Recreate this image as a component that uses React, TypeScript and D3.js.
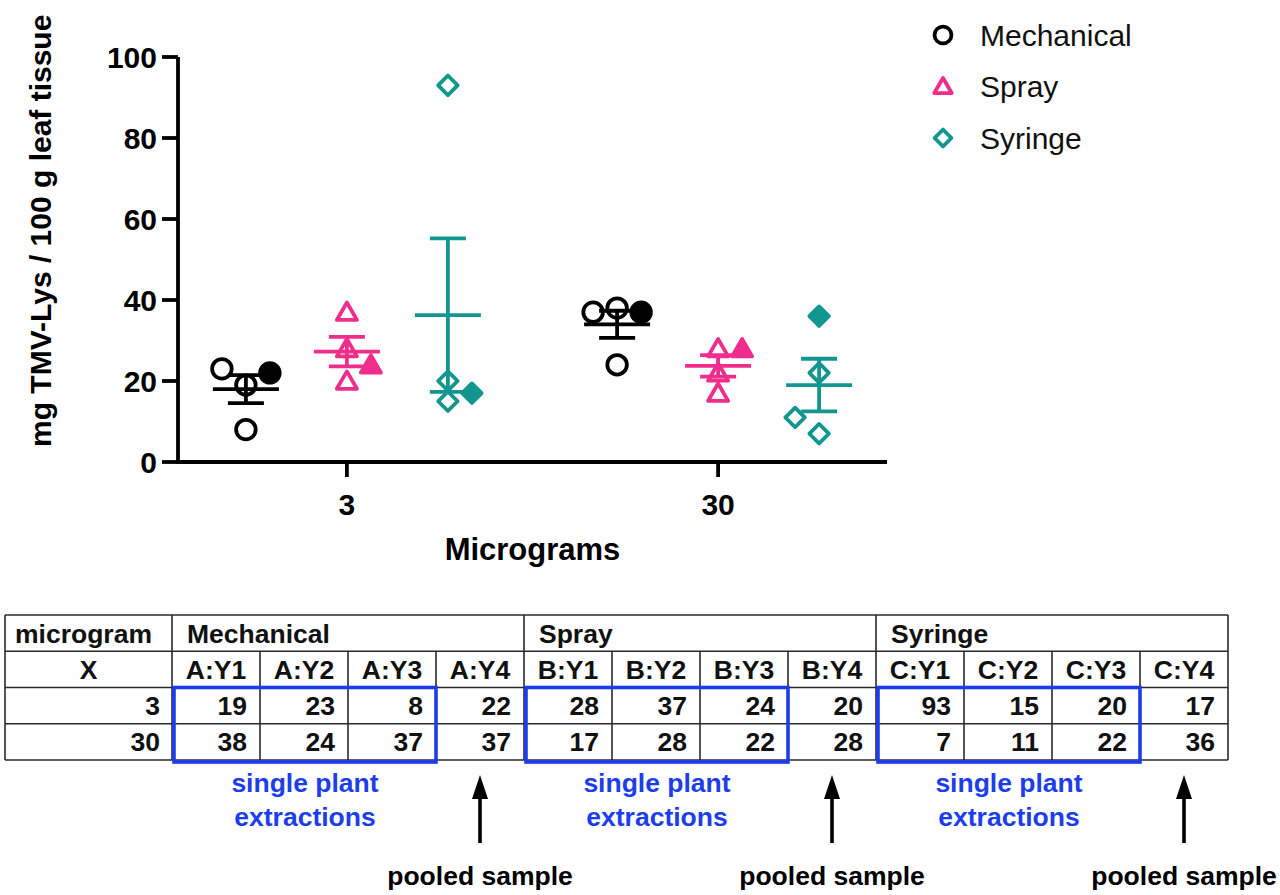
import React from "react";
import * as d3 from "d3";

// doses on the x axis and the three inoculation methods
const doses = ["3", "30"];
const methods = ["Mechanical", "Spray", "Syringe"];
const methodColors = ["#000000", "#ef2d8b", "#12968f"];

// plotted values per dose (single plant extractions and pooled sample)
const mechanicalSingle = [[19, 23, 8], [38, 24, 37]];
const mechanicalPooled = [22, 37];
const spraySingle = [[28, 37, 20], [17, 28, 22]];
const sprayPooled = [24, 28];
const syringeSingle = [[93, 15, 20], [7, 11, 22]];
const syringePooled = [17, 36];

// table values, rows = doses, columns = Y1..Y4
const tableDoses = ["3", "30"];
const tablePrefixes = ["A", "B", "C"];
const subColumns = ["Y1", "Y2", "Y3", "Y4"];
const mechanicalTable = [[19, 23, 8, 22], [38, 24, 37, 37]];
const sprayTable = [[28, 37, 24, 20], [17, 28, 22, 28]];
const syringeTable = [[93, 15, 20, 17], [7, 11, 22, 36]];

const yTicks = [0, 20, 40, 60, 80, 100];

const FONT = "'Liberation Sans', Arial, Helvetica, sans-serif";
const BLUE = "#1c3ded";

const singles = [mechanicalSingle, spraySingle, syringeSingle];
const pooled = [mechanicalPooled, sprayPooled, syringePooled];
const tables = [mechanicalTable, sprayTable, syringeTable];

const symbolTypes = [d3.symbolCircle, d3.symbolTriangle, d3.symbolSquare];
const symbolSizes = [300, 175, 190];
const symbolRotate = [0, 0, 45];

const App: React.FC = () => {
  const margin = { left: 178, right: 887, top: 57, bottom: 462 };
  const y = d3.scaleLinear().domain([0, 100]).range([margin.bottom, margin.top]);
  const x = d3
    .scalePoint<string>()
    .domain(doses)
    .range([margin.left, margin.right])
    .padding(0.455);
  const methodOffset = d3.scalePoint<string>().domain(methods).range([-101, 101]);
  const laneWidth = 24;
  const minGap = 19;

  // simple dodge: each point takes the first free lane
  const placePoints = (single: number[], pool: number) => {
    const placed: { v: number; lane: number; filled: boolean }[] = [];
    const tryPlace = (v: number, prefs: number[], filled: boolean) => {
      for (const lane of prefs) {
        const clash = placed.some(
          p => p.lane === lane && Math.abs(y(p.v) - y(v)) < minGap
        );
        if (!clash) {
          placed.push({ v, lane, filled });
          return;
        }
      }
      placed.push({ v, lane: prefs[prefs.length - 1], filled });
    };
    single.forEach(v => tryPlace(v, [0, -1, 1, -2, 2], false));
    tryPlace(pool, [0, 1, -1, 2, -2], true);
    return placed;
  };

  const plotGroups: React.ReactNode[] = [];
  methods.forEach((m, mi) => {
    doses.forEach((dose, di) => {
      const cx = (x(dose) as number) + (methodOffset(m) as number);
      const pts = placePoints(singles[mi][di], pooled[mi][di]);
      const all = pts.map(p => p.v);
      const mean = d3.mean(all) as number;
      const sem = (d3.deviation(all) as number) / Math.sqrt(all.length);
      const color = methodColors[mi];
      const sym = d3.symbol().type(symbolTypes[mi]).size(symbolSizes[mi]);
      plotGroups.push(
        <g key={`${m}-${dose}`}>
          {pts.map((p, i) => (
            <path
              key={i}
              d={sym() as string}
              transform={`translate(${cx + p.lane * laneWidth},${y(p.v) + (mi === 1 ? 2 : 0)}) rotate(${symbolRotate[mi]})`}
              fill={p.filled ? color : "#fff"}
              fillOpacity={p.filled ? 1 : 0}
              stroke={color}
              strokeWidth={3.8}
              strokeLinejoin="round"
            />
          ))}
          <g stroke={color} strokeWidth={3.8}>
            <line x1={cx - 33} x2={cx + 33} y1={y(mean)} y2={y(mean)} />
            <line x1={cx} x2={cx} y1={y(mean - sem)} y2={y(mean + sem)} />
            <line x1={cx - 18} x2={cx + 18} y1={y(mean - sem)} y2={y(mean - sem)} />
            <line x1={cx - 18} x2={cx + 18} y1={y(mean + sem)} y2={y(mean + sem)} />
          </g>
        </g>
      );
    });
  });

  // legend
  const legendY = d3.scalePoint<string>().domain(methods).range([35, 138]);

  // table
  const tableLeft = 5;
  const firstColRight = 172;
  const tableRight = 1228;
  const cols = d3.range(12);
  const col = d3.scaleBand<number>().domain(cols).range([firstColRight, tableRight]);
  const rows = ["h1", "h2", "r0", "r1"];
  const row = d3.scaleBand<string>().domain(rows).range([615, 760]);
  const rh = row.bandwidth();
  const cw = col.bandwidth();
  const tFont = 26.5;
  const lineColor = "#2a2a2a";
  const mid = (r: string) => (row(r) as number) + rh / 2 + tFont * 0.36;

  const tableEls: React.ReactNode[] = [];
  // horizontal lines
  [615, ...rows.map(r => (row(r) as number) + rh)].forEach((yy, i) => {
    tableEls.push(
      <line key={`h${i}`} x1={tableLeft} x2={tableRight} y1={yy} y2={yy} stroke={lineColor} strokeWidth={1.6} />
    );
  });
  // vertical lines
  const vx = [tableLeft, ...cols.map(c => (col(c) as number)), tableRight];
  vx.forEach((xx, i) => {
    const groupEdge = i === 0 || i === vx.length - 1 || (i - 1) % 4 === 0;
    tableEls.push(
      <line
        key={`v${i}`}
        x1={xx}
        x2={xx}
        y1={groupEdge ? 615 : (row("h2") as number)}
        y2={760}
        stroke={lineColor}
        strokeWidth={1.6}
      />
    );
  });

  const textStyle = { fontFamily: FONT, fontWeight: 700, fontSize: tFont, fill: "#111" };
  tableEls.push(
    <text key="t-mg" x={tableLeft + 10} y={mid("h1")} style={textStyle}>
      microgram
    </text>
  );
  tableEls.push(
    <text key="t-x" x={(tableLeft + firstColRight) / 2} y={mid("h2")} textAnchor="middle" style={textStyle}>
      X
    </text>
  );
  methods.forEach((m, mi) => {
    const gx = col(mi * 4) as number;
    tableEls.push(
      <text key={`t-${m}`} x={gx + 15} y={mid("h1")} style={textStyle}>
        {m}
      </text>
    );
    subColumns.forEach((s, si) => {
      const cx = (col(mi * 4 + si) as number) + cw / 2;
      tableEls.push(
        <text key={`t-${m}-${s}`} x={cx} y={mid("h2")} textAnchor="middle" style={textStyle}>
          {`${tablePrefixes[mi]}:${s}`}
        </text>
      );
    });
    tableDoses.forEach((d, di) => {
      tables[mi][di].forEach((v, si) => {
        const rx = (col(mi * 4 + si) as number) + cw - 13;
        tableEls.push(
          <text key={`v-${m}-${d}-${si}`} x={rx} y={mid(`r${di}`)} textAnchor="end" style={textStyle}>
            {v}
          </text>
        );
      });
    });
  });
  tableDoses.forEach((d, di) => {
    tableEls.push(
      <text key={`d-${d}`} x={firstColRight - 12} y={mid(`r${di}`)} textAnchor="end" style={textStyle}>
        {d}
      </text>
    );
  });

  // blue boxes, notes and arrows
  const notes: React.ReactNode[] = [];
  methods.forEach((m, mi) => {
    const bx0 = (col(mi * 4) as number) + 2;
    const bx1 = (col(mi * 4 + 2) as number) + cw;
    const by0 = row("r0") as number;
    const by1 = (row("r1") as number) + rh + 2;
    const bcx = (bx0 + bx1) / 2;
    const ax = (col(mi * 4 + 3) as number) + cw / 2;
    notes.push(
      <g key={`n-${m}`}>
        <rect x={bx0} y={by0} width={bx1 - bx0} height={by1 - by0} fill="none" stroke={BLUE} strokeWidth={3.6} />
        <text x={bcx} y={792} textAnchor="middle" style={{ ...textStyle, fill: BLUE }}>
          single plant
        </text>
        <text x={bcx} y={826} textAnchor="middle" style={{ ...textStyle, fill: BLUE }}>
          extractions
        </text>
        <line x1={ax} x2={ax} y1={843} y2={792} stroke="#000" strokeWidth={3.6} />
        <path d={`M${ax},775 L${ax - 8},799 L${ax + 8},799 Z`} fill="#000" />
        <text x={ax} y={885} textAnchor="middle" style={{ ...textStyle, fill: "#000" }}>
          pooled sample
        </text>
      </g>
    );
  });

  return (
    <svg
      width={1280}
      height={895}
      style={{ position: "absolute", left: 0, top: 0, background: "#fff" }}
    >
      {/* axes */}
      <g stroke="#000" strokeWidth={3.8}>
        <line x1={margin.left} x2={margin.left} y1={y(100)} y2={y(0) + 1.9} />
        {yTicks.map(t => (
          <line key={t} x1={margin.left - 16} x2={margin.left} y1={y(t)} y2={y(t)} />
        ))}
        <line x1={margin.left} x2={margin.right} y1={y(0)} y2={y(0)} />
        {doses.map(d => (
          <line key={d} x1={x(d)} x2={x(d)} y1={y(0)} y2={y(0) + 15} />
        ))}
      </g>
      {yTicks.map(t => (
        <text
          key={t}
          x={margin.left - 21}
          y={y(t) + 11}
          textAnchor="end"
          style={{ fontFamily: FONT, fontWeight: 700, fontSize: 30, fill: "#000" }}
        >
          {t}
        </text>
      ))}
      {doses.map(d => (
        <text
          key={d}
          x={x(d)}
          y={515}
          textAnchor="middle"
          style={{ fontFamily: FONT, fontWeight: 700, fontSize: 30, fill: "#000" }}
        >
          {d}
        </text>
      ))}
      <text
        x={(margin.left + margin.right) / 2}
        y={560}
        textAnchor="middle"
        style={{ fontFamily: FONT, fontWeight: 700, fontSize: 31, fill: "#000" }}
      >
        Micrograms
      </text>
      <text
        transform={`translate(51,447) rotate(-90)`}
        style={{ fontFamily: FONT, fontWeight: 700, fontSize: 30, fill: "#000" }}
      >
        mg TMV-Lys / 100 g leaf tissue
      </text>

      {plotGroups}

      {/* legend */}
      {methods.map((m, mi) => {
        const sym = d3.symbol().type(symbolTypes[mi]).size(symbolSizes[mi] * 0.75);
        const ly = legendY(m) as number;
        return (
          <g key={m}>
            <path
              d={sym() as string}
              transform={`translate(943,${ly + (mi === 1 ? 1.5 : 0)}) rotate(${symbolRotate[mi]})`}
              fill="none"
              stroke={methodColors[mi]}
              strokeWidth={3.8}
              strokeLinejoin="round"
            />
            <text x={980} y={ly + 10.5} style={{ fontFamily: FONT, fontSize: 30, fill: "#111" }}>
              {m}
            </text>
          </g>
        );
      })}

      {tableEls}
      {notes}
    </svg>
  );
};

export default App;
